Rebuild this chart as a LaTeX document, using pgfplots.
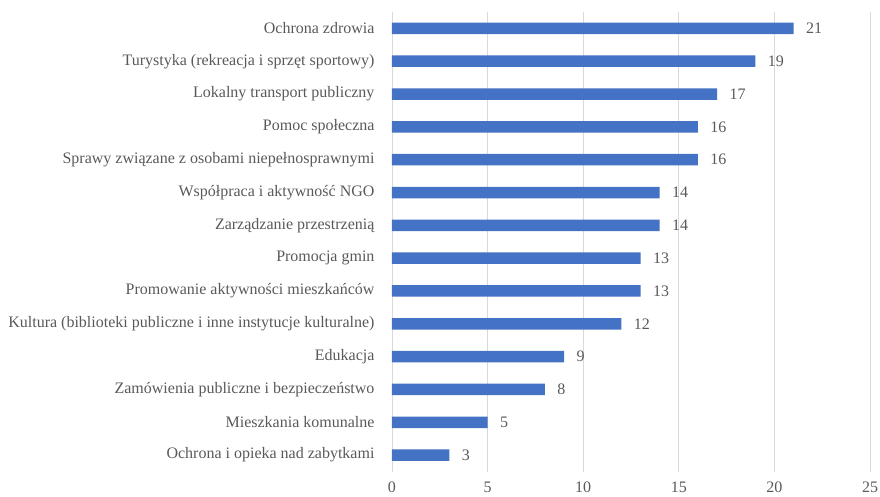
\documentclass[border=0pt]{standalone}
\usepackage{fontspec}
\setmainfont{Liberation Serif}
\usepackage{pgfplots}
\usepackage{pgfplotstable}
\pgfplotsset{compat=1.18}
\definecolor{barblue}{HTML}{4472C4}
\definecolor{txtgray}{HTML}{595959}
\definecolor{gridgray}{HTML}{D9D9D9}

\pgfplotstableread[col sep=semicolon]{
idx;value;label
0;21;Ochrona zdrowia
1;19;Turystyka (rekreacja i sprzęt sportowy)
2;17;Lokalny transport publiczny
3;16;Pomoc społeczna
4;16;Sprawy związane z osobami niepełnosprawnymi
5;14;Współpraca i aktywność NGO
6;14;Zarządzanie przestrzenią
7;13;Promocja gmin
8;13;Promowanie aktywności mieszkańców
9;12;Kultura (biblioteki publiczne i inne instytucje kulturalne)
10;9;Edukacja
11;8;Zamówienia publiczne i bezpieczeństwo
12;5;Mieszkania komunalne
13;3;Ochrona i opieka nad zabytkami
}\datatable

\begin{document}
\begin{tikzpicture}
\path[use as bounding box] (-392pt,-25pt) rectangle (488pt,471.5pt);
\begin{axis}[
  at={(0,0)}, anchor=south west,
  scale only axis, width=478pt, height=459.5pt,
  xbar, bar width=11.5pt,
  y dir=reverse,
  xmin=0, xmax=25, ymin=-0.5, ymax=13.5,
  xtick={0,5,...,25},
  ytick=data,
  yticklabels from table={\datatable}{label},
  axis line style={draw=none},
  xmajorgrids, grid style={gridgray, line width=0.9pt},
  major tick length=0pt,
  tick style={draw=none},
  font=\fontsize{16pt}{18pt}\selectfont,
  ticklabel style={text=txtgray},
  xticklabel style={yshift=-7pt},
  yticklabel style={xshift=-14pt},
  /pgf/number format/assume math mode=true,
  nodes near coords,
  nodes near coords style={text=txtgray, anchor=west, xshift=9pt},
  clip=false,
]
\addplot[fill=barblue, draw=none] table[x=value, y=idx] {\datatable};
\end{axis}
\end{tikzpicture}
\end{document}
